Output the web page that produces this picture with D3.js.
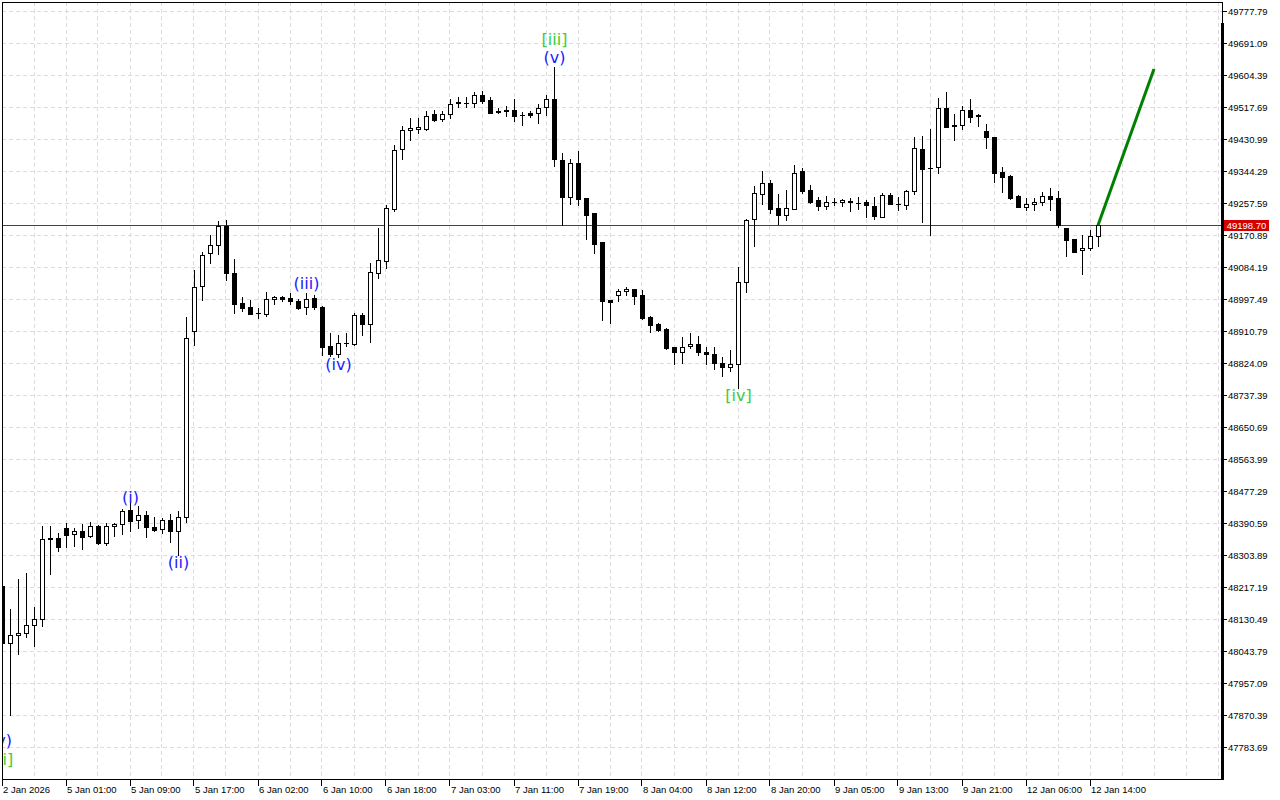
<!DOCTYPE html>
<html>
<head>
<meta charset="utf-8">
<script src="https://cdn.jsdelivr.net/npm/d3@7"></script>
<style>
  body { margin: 0; background: #fff; }
  svg { display: block; }
</style>
</head>
<body>
<div id="chart"></div>
<script>
// H1 candles, oldest first
var opens = [48221,48067,48088,48094,48116,48132,48349,48351,48378,48362,48370,48357,48384,48338,48384,48389,48427,48400,48414,48381,
  48376,48400,48370,48408,48912,49034,49123,49145,49197,49069,48988,48977,48961,48958,48999,49004,49002,48993,48977,49002,
  48977,48872,48850,48880,48877,48956,48931,49069,49102,49243,49405,49457,49459,49459,49500,49487,49500,49533,49531,49530,
  49552,49538,49508,49511,49511,49497,49503,49503,49519,49541,49375,49275,49367,49272,49232,49153,48996,49010,49021,49026,
  49010,48950,48931,48918,48869,48855,48872,48877,48855,48850,48825,48815,48823,49045,49216,49283,49313,49245,49226,49243,
  49346,49294,49267,49251,49262,49262,49264,49259,49262,49251,49221,49281,49256,49254,49291,49405,49354,49356,49516,49470,
  49470,49511,49497,49454,49438,49343,49332,49278,49248,49256,49262,49278,49272,49191,49161,49132,49137,49170];
var highs = [48224,48159,48240,48256,48164,48384,48384,48365,48392,48378,48389,48395,48386,48392,48392,48430,48452,48438,48424,48408,
  48405,48416,48424,48950,49077,49126,49172,49210,49213,49107,49004,48996,48974,49018,49007,49007,49015,48999,49015,49010,
  48980,48907,48901,48907,48961,48961,49096,49191,49254,49416,49468,49489,49489,49508,49511,49508,49541,49546,49545,49560,
  49562,49546,49516,49522,49541,49505,49508,49527,49552,49627,49394,49378,49400,49273,49233,49154,48997,49026,49031,49027,
  49023,48953,48934,48920,48870,48896,48907,48899,48869,48869,48842,48861,49086,49216,49305,49346,49321,49283,49294,49362,
  49354,49308,49275,49278,49272,49270,49272,49275,49267,49275,49286,49286,49275,49294,49438,49440,49459,49543,49560,49500,
  49522,49541,49500,49473,49439,49356,49335,49281,49272,49272,49289,49300,49291,49192,49162,49172,49186,49199];
var lows = [48061,47872,48037,48083,48059,48113,48254,48316,48327,48330,48322,48354,48336,48332,48357,48362,48370,48378,48354,48370,
  48365,48340,48305,48395,48874,48996,49096,49121,49050,48961,48966,48957,48947,48953,48985,48993,48985,48972,48958,48972,
  48847,48844,48842,48872,48875,48901,48882,49056,49083,49237,49378,49430,49449,49457,49481,49481,49489,49519,49518,49519,
  49530,49502,49503,49495,49481,49470,49492,49476,49497,49359,49199,49256,49254,49161,49123,48942,48934,48993,49010,48985,
  48946,48909,48912,48863,48823,48825,48866,48847,48823,48809,48790,48804,48758,49018,49142,49256,49232,49202,49213,49242,
  49286,49259,49240,49243,49254,49251,49237,49243,49221,49216,49220,49255,49240,49243,49283,49207,49172,49340,49464,49430,
  49459,49478,49468,49408,49316,49289,49270,49247,49240,49240,49254,49240,49194,49115,49125,49067,49132,49142];
var closes = [48067,48088,48094,48116,48132,48349,48350,48327,48359,48370,48354,48384,48338,48384,48389,48424,48397,48414,48381,48373,
  48400,48370,48408,48893,49031,49118,49145,49197,49069,48985,48974,48958,48961,48999,49004,48999,48993,48974,48999,48977,
  48869,48850,48880,48880,48956,48931,49072,49105,49245,49403,49457,49462,49465,49495,49484,49500,49527,49530,49529,49552,
  49535,49503,49505,49508,49495,49497,49497,49516,49541,49378,49275,49367,49270,49226,49148,48993,48991,49021,49026,49007,
  48947,48928,48915,48866,48855,48869,48877,48855,48850,48825,48815,48823,49045,49213,49286,49313,49243,49226,49245,49340,
  49291,49262,49251,49262,49262,49267,49262,49259,49254,49224,49281,49256,49256,49291,49408,49351,49354,49516,49465,49468,
  49511,49492,49495,49438,49340,49329,49272,49248,49256,49262,49278,49270,49199,49159,49126,49137,49170,49198.70];

var timeLabels = ['2 Jan 2026','5 Jan 01:00','5 Jan 09:00','5 Jan 17:00','6 Jan 02:00','6 Jan 10:00','6 Jan 18:00',
  '7 Jan 03:00','7 Jan 11:00','7 Jan 19:00','8 Jan 04:00','8 Jan 12:00','8 Jan 20:00','9 Jan 05:00','9 Jan 13:00',
  '9 Jan 21:00','12 Jan 06:00','12 Jan 14:00'];
var priceTicks = [49777.79,49691.09,49604.39,49517.69,49430.99,49344.29,49257.59,49170.89,49084.19,48997.49,48910.79,
  48824.09,48737.39,48650.69,48563.99,48477.29,48390.59,48303.89,48217.19,48130.49,48043.79,47957.09,47870.39,47783.69];

var bidPrice = 49198.70;

// wave marks: text, candle index, price of text baseline
var waveText  = ['(v)','[ii]','(i)','(ii)','(iii)','(iv)','[iii]','(v)','[iv]'];
var waveIdx   = [-0.2, 0, 16, 22, 38, 42, 69, 69, 92];
var wavePrice = [47788, 47736, 48446, 48269, 49027, 48806, 49688, 49637, 48722];
var waveMajor = [false, true, false, false, false, false, true, false, true];

// projected move
var forecastIdx = [137, 144];
var forecastPrice = [49198.70, 49622];

var width = 1280, height = 800;
var pLeft = 2, pRight = 1222, pTop = 2, pBottom = 779;

var svg = d3.select('#chart')
  .append('svg')
  .attr('width', width)
  .attr('height', height)
  .style('font-family', '"Liberation Sans", Arial, sans-serif');

var x = d3.scaleLinear().domain([0, 152]).range([2, 1218]);
var y = d3.scaleLinear().domain([47783.69, 49777.79]).range([747.5, 11.5]);

function px(v){ return Math.floor(v) + 0.5 }

svg.append('clipPath').attr('id', 'plot')
  .append('rect').attr('x', pLeft).attr('y', pTop).attr('width', pRight - pLeft).attr('height', pBottom - pTop);

var plot = svg.append('g').attr('clip-path', 'url(#plot)');

// grid
var vgrid = d3.range(0, 153, 4);
plot.selectAll('.vg').data(vgrid).enter().append('line')
  .attr('x1', function(d){ return px(x(d)) })
  .attr('x2', function(d){ return px(x(d)) })
  .attr('y1', pTop).attr('y2', pBottom)
  .attr('stroke', '#dcdcdc').attr('stroke-dasharray', '4,3');

plot.selectAll('.hg').data(priceTicks).enter().append('line')
  .attr('x1', pLeft).attr('x2', pRight)
  .attr('y1', function(d){ return px(y(d)) })
  .attr('y2', function(d){ return px(y(d)) })
  .attr('stroke', '#dcdcdc').attr('stroke-dasharray', '4,3');

// bid line
plot.append('line')
  .attr('x1', pLeft).attr('x2', pRight)
  .attr('y1', px(y(bidPrice))).attr('y2', px(y(bidPrice)))
  .attr('stroke', '#b41414').attr('stroke-width', 1);

// candles
var candles = opens.map(function(o, i){
  return { i: i, o: o, h: highs[i], l: lows[i], c: closes[i] }
});

var g = plot.selectAll('.candle').data(candles).enter().append('g');

g.append('line')
  .attr('x1', function(d){ return x(d.i) + 0.5 })
  .attr('x2', function(d){ return x(d.i) + 0.5 })
  .attr('y1', function(d){ return Math.round(y(d.h)) })
  .attr('y2', function(d){ return Math.round(y(d.l)) + 1 })
  .attr('stroke', '#000');

g.each(function(d){
  var sel = d3.select(this);
  var yt = Math.round(y(Math.max(d.o, d.c)));
  var yb = Math.round(y(Math.min(d.o, d.c)));
  var cx = x(d.i);
  if (yb - yt < 1) {
    sel.append('line')
      .attr('x1', cx - 2).attr('x2', cx + 3)
      .attr('y1', yt + 0.5).attr('y2', yt + 0.5)
      .attr('stroke', '#000');
  } else {
    sel.append('rect')
      .attr('x', cx - 1.5).attr('y', yt + 0.5)
      .attr('width', 4).attr('height', yb - yt)
      .attr('fill', d.c >= d.o ? '#fff' : '#000')
      .attr('stroke', '#000');
  }
});

// forecast line
plot.append('line')
  .attr('x1', x(forecastIdx[0])).attr('y1', y(forecastPrice[0]))
  .attr('x2', x(forecastIdx[1])).attr('y2', y(forecastPrice[1]))
  .attr('stroke', '#008000').attr('stroke-width', 3);

// wave labels
plot.selectAll('.wave').data(waveText).enter().append('text')
  .attr('x', function(d, i){ return x(waveIdx[i]) + 0.5 })
  .attr('y', function(d, i){ return y(wavePrice[i]) })
  .attr('text-anchor', 'middle')
  .style('font-family', '"DejaVu Sans", sans-serif')
  .style('font-size', '16px')
  .attr('fill', function(d, i){ return waveMajor[i] ? '#3ccc3c' : '#2020ff' })
  .text(function(d){ return d });

// frame
svg.append('rect')
  .attr('x', pLeft + 0.5).attr('y', pTop + 0.5)
  .attr('width', pRight - pLeft).attr('height', pBottom - pTop)
  .attr('fill', 'none').attr('stroke', '#000');
svg.append('rect')
  .attr('x', pRight - 1).attr('y', 23)
  .attr('width', 3).attr('height', pBottom - 23 + 1)
  .attr('fill', '#000');

// price axis
var pa = svg.append('g');
pa.selectAll('line').data(priceTicks).enter().append('line')
  .attr('x1', pRight + 1).attr('x2', pRight + 5)
  .attr('y1', function(d){ return px(y(d)) })
  .attr('y2', function(d){ return px(y(d)) })
  .attr('stroke', '#000');
pa.selectAll('text').data(priceTicks).enter().append('text')
  .attr('x', pRight + 6)
  .attr('y', function(d){ return y(d) + 3.5 })
  .style('font-size', '9.5px')
  .attr('fill', '#000')
  .text(function(d){ return d3.format('.2f')(d) });

pa.append('rect')
  .attr('x', pRight + 2).attr('y', Math.round(y(bidPrice)) - 5)
  .attr('width', 45).attr('height', 11)
  .attr('fill', '#d40000');
pa.append('text')
  .attr('x', pRight + 24.5).attr('y', Math.round(y(bidPrice)) + 3.5)
  .attr('text-anchor', 'middle')
  .style('font-size', '9.5px')
  .attr('fill', '#fff')
  .text(d3.format('.2f')(bidPrice));

// time axis
var ta = svg.append('g');
ta.selectAll('line').data(timeLabels).enter().append('line')
  .attr('x1', function(d, i){ return px(x(i * 8)) })
  .attr('x2', function(d, i){ return px(x(i * 8)) })
  .attr('y1', pBottom).attr('y2', pBottom + 7)
  .attr('stroke', '#000');
ta.selectAll('text').data(timeLabels).enter().append('text')
  .attr('x', function(d, i){ return x(i * 8) + 1 })
  .attr('y', pBottom + 14)
  .style('font-size', '9.5px')
  .attr('fill', '#000')
  .text(function(d){ return d });
</script>
</body>
</html>
